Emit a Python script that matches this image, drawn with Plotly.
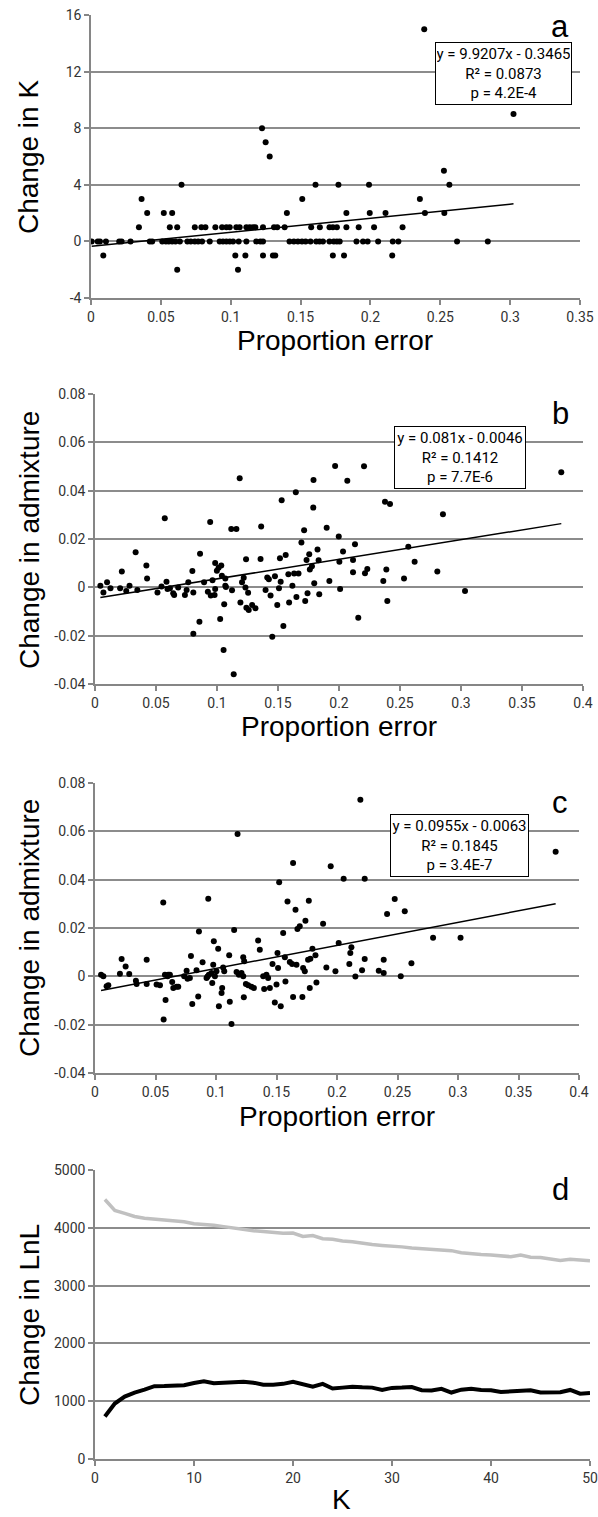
import plotly.graph_objects as go

W, H = 598, 1517

# ---------------- data ----------------
# Panel a: change in K vs proportion error
a_x = [0.0005, 0.0048, 0.0064, 0.0107, 0.0202, 0.0219, 0.0283, 0.0421, 0.0438, 0.0510, 0.0536, 0.0557, 0.0581,
       0.0605, 0.0636, 0.0690, 0.0714, 0.0743, 0.0767, 0.0795, 0.0850, 0.0921, 0.0945, 0.0969, 0.0993, 0.1017,
       0.1057, 0.1112, 0.1183, 0.1212, 0.1231, 0.1421, 0.1452, 0.1481, 0.1510, 0.1536, 0.1571, 0.1612, 0.1636,
       0.1660, 0.1707, 0.1738, 0.1760, 0.1780, 0.1900, 0.1947, 0.1980, 0.2055, 0.2160, 0.2200, 0.2620, 0.2840,
       0.0343, 0.0564, 0.0617, 0.0743, 0.0790, 0.0819, 0.0890, 0.0938, 0.0969, 0.0993, 0.1040, 0.1064, 0.1112,
       0.1136, 0.1160, 0.1176, 0.1231, 0.1310, 0.1333, 0.1386, 0.1576, 0.1638, 0.1707, 0.1731, 0.1760, 0.1828,
       0.1916, 0.2026, 0.2230,
       0.0402, 0.0521, 0.0581, 0.1402, 0.1828, 0.1995, 0.2108, 0.2390, 0.2529,
       0.0362, 0.1512, 0.2354,
       0.0648, 0.1607, 0.1771, 0.1990, 0.2565,
       0.2526, 0.1279, 0.1250, 0.1224, 0.3024, 0.2385,
       0.0088, 0.1033, 0.1105, 0.1231, 0.1302, 0.1319, 0.1731, 0.1811, 0.2156,
       0.0617, 0.1052]
a_y = [0] * 52 + [1] * 29 + [2] * 9 + [3] * 3 + [4] * 5 + [5, 6, 7, 8, 9, 15] + [-1] * 9 + [-2] * 2

# Panel b: change in admixture vs proportion error
b_x = [0.0044, 0.0069, 0.0099, 0.0127, 0.0206, 0.0220, 0.0256, 0.0283, 0.0333, 0.0347, 0.0421, 0.0427, 0.0512,
       0.0545, 0.0572, 0.0586, 0.0594, 0.0614, 0.0641, 0.0649, 0.0682, 0.0737, 0.0751, 0.0765, 0.0798, 0.0806,
       0.0806, 0.0856, 0.0861, 0.0894, 0.0925, 0.0944, 0.0949, 0.0963, 0.0980, 0.0985, 0.0985, 0.0999, 0.1013,
       0.1026, 0.1035, 0.1040, 0.1054, 0.1059, 0.1068, 0.1068, 0.1073, 0.1117, 0.1123, 0.1137, 0.1159, 0.1186,
       0.1192, 0.1205, 0.1219, 0.1233, 0.1238, 0.1241, 0.1255, 0.1260, 0.1288, 0.1315, 0.1357, 0.1362, 0.1398,
       0.1412, 0.1425, 0.1439, 0.1453, 0.1475, 0.1494, 0.1508, 0.1516, 0.1522, 0.1530, 0.1544, 0.1563, 0.1585,
       0.1591, 0.1618, 0.1632, 0.1646, 0.1651, 0.1668, 0.1692, 0.1714, 0.1723, 0.1734, 0.1742, 0.1756, 0.1761,
       0.1778, 0.1789, 0.1791, 0.1797, 0.1824, 0.1833, 0.1838, 0.1899, 0.1921, 0.1968, 0.1998, 0.2003, 0.2009,
       0.2033, 0.2068, 0.2115, 0.2115, 0.2131, 0.2158, 0.2205, 0.2213, 0.2232, 0.2363, 0.2377, 0.2388, 0.2396,
       0.2418, 0.2533, 0.2568, 0.2620, 0.2806, 0.2852, 0.3033, 0.3822]
b_y = [0.0007, -0.0021, 0.0021, -0.0004, -0.0004, 0.0065, -0.0015, 0.0007, 0.0145, -0.0011, 0.0090, 0.0037, -0.0021,
       0.0003, 0.0286, 0.0023, -0.0007, -0.0004, -0.0025, -0.0032, -0.0001, -0.0032, -0.0011, 0.0021, 0.0068, -0.0021,
       -0.0192, -0.0142, 0.0139, 0.0021, -0.0018, 0.0270, -0.0034, 0.0029, -0.0032, -0.0007, 0.0101, 0.0069, 0.0081,
       -0.0131, 0.0090, 0.0048, -0.0259, -0.0070, 0.0037, 0.0007, 0.0001, 0.0241, -0.0012, -0.0360, 0.0241, 0.0451,
       -0.0063, 0.0021, 0.0040, -0.0001, 0.0116, -0.0084, -0.0022, -0.0094, -0.0073, -0.0087, 0.0117, 0.0252, -0.0011,
       0.0041, 0.0033, -0.0034, -0.0204, 0.0046, -0.0073, -0.0004, 0.0120, 0.0023, 0.0360, -0.0160, 0.0134, 0.0054,
       -0.0063, 0.0007, 0.0057, 0.0393, -0.0040, 0.0057, 0.0186, 0.0236, -0.0057, 0.0113, -0.0025, 0.0137, 0.0074,
       0.0087, 0.0330, 0.0444, 0.0017, 0.0157, 0.0112, -0.0029, 0.0247, 0.0026, 0.0502, 0.0210, 0.0106, -0.0007,
       0.0148, 0.0441, 0.0113, 0.0062, 0.0178, -0.0126, 0.0501, 0.0058, 0.0076, 0.0026, 0.0354, 0.0074, -0.0057,
       0.0345, 0.0037, 0.0168, 0.0106, 0.0065, 0.0302, -0.0015, 0.0476]

# Panel c: change in admixture vs proportion error
c_x = [0.0050, 0.0069, 0.0096, 0.0110, 0.0206, 0.0220, 0.0253, 0.0283, 0.0338, 0.0344, 0.0427, 0.0427, 0.0509,
       0.0537, 0.0564, 0.0567, 0.0578, 0.0583, 0.0600, 0.0605, 0.0619, 0.0638, 0.0647, 0.0674, 0.0688, 0.0737,
       0.0757, 0.0765, 0.0784, 0.0793, 0.0804, 0.0839, 0.0853, 0.0859, 0.0889, 0.0922, 0.0930, 0.0936, 0.0941,
       0.0963, 0.0969, 0.0977, 0.0982, 0.0991, 0.1004, 0.1018, 0.1024, 0.1046, 0.1051, 0.1059, 0.1068, 0.1109,
       0.1114, 0.1128, 0.1150, 0.1170, 0.1178, 0.1189, 0.1211, 0.1225, 0.1225, 0.1230, 0.1233, 0.1247, 0.1266,
       0.1293, 0.1313, 0.1348, 0.1362, 0.1390, 0.1398, 0.1417, 0.1431, 0.1445, 0.1467, 0.1486, 0.1500, 0.1508,
       0.1513, 0.1522, 0.1535, 0.1555, 0.1569, 0.1574, 0.1591, 0.1610, 0.1629, 0.1637, 0.1637, 0.1657, 0.1665,
       0.1673, 0.1692, 0.1714, 0.1720, 0.1734, 0.1739, 0.1761, 0.1767, 0.1775, 0.1780, 0.1797, 0.1822, 0.1830,
       0.1885, 0.1912, 0.1948, 0.1987, 0.2014,
       0.2193, 0.2055, 0.2229, 0.2102, 0.2110, 0.2119, 0.2152, 0.2207, 0.2229, 0.2345, 0.2386, 0.2386, 0.2414,
       0.2477, 0.2527, 0.2560, 0.2615, 0.2794, 0.3021, 0.3807]
c_y = [0.0007, 0.0000, -0.0041, -0.0037, 0.0011, 0.0072, 0.0041, 0.0010, -0.0018, -0.0032, 0.0069, -0.0032, -0.0034,
       -0.0037, 0.0306, -0.0179, 0.0007, -0.0098, 0.0000, 0.0007, 0.0007, -0.0023, -0.0048, -0.0043, -0.0043, 0.0000,
       0.0023, -0.0010, -0.0007, 0.0084, -0.0114, 0.0025, -0.0083, 0.0185, 0.0058, -0.0007, -0.0001, 0.0321, 0.0007,
       0.0014, -0.0028, 0.0048, 0.0145, 0.0000, 0.0021, 0.0114, -0.0124, -0.0069, -0.0048, 0.0037, 0.0021, 0.0087,
       -0.0105, -0.0197, 0.0192, 0.0018, 0.0589, 0.0007, 0.0014, 0.0000, 0.0079, -0.0087, 0.0062, -0.0032, -0.0037,
       -0.0043, -0.0048, 0.0148, 0.0110, 0.0000, -0.0052, 0.0007, -0.0007, -0.0048, 0.0051, -0.0108, -0.0034, 0.0097,
       0.0034, 0.0389, -0.0124, 0.0179, 0.0079, -0.0021, 0.0310, 0.0059, 0.0051, 0.0469, -0.0086, 0.0276, 0.0048,
       0.0196, 0.0207, -0.0086, 0.0034, 0.0021, 0.0230, 0.0069, 0.0313, -0.0048, 0.0073, 0.0114, 0.0087, -0.0026,
       0.0218, 0.0037, 0.0455, 0.0021, 0.0138,
       0.0731, 0.0404, 0.0404, 0.0051, 0.0097, 0.0120, -0.0001, 0.0025, 0.0072, 0.0023, 0.0014, 0.0069, 0.0258,
       0.0320, 0.0000, 0.0269, 0.0054, 0.0160, 0.0160, 0.0516]

# Panel d: change in LnL vs K
d_k = list(range(1, 51))
d_gray = [4490, 4300, 4250, 4195, 4165, 4150, 4135, 4120, 4105, 4070, 4065, 4045, 4020, 3995, 3965, 3950, 3935,
          3915, 3905, 3910, 3850, 3865, 3810, 3800, 3770, 3760, 3730, 3710, 3695, 3690, 3670, 3650, 3640, 3625,
          3610, 3605, 3570, 3550, 3540, 3530, 3510, 3500, 3530, 3490, 3485, 3460, 3435, 3455, 3445, 3430]
d_black = [735, 960, 1080, 1150, 1200, 1260, 1262, 1268, 1275, 1315, 1345, 1310, 1320, 1335, 1338, 1320, 1285,
           1285, 1300, 1335, 1290, 1250, 1300, 1220, 1235, 1250, 1240, 1235, 1195, 1230, 1235, 1245, 1190, 1185,
           1215, 1150, 1200, 1215, 1195, 1190, 1160, 1165, 1170, 1190, 1150, 1150, 1155, 1195, 1130, 1140]

# regression fits (slope, intercept) and their text boxes
a_fit = (9.9207, -0.3465)
b_fit = (0.081, -0.0046)
c_fit = (0.0955, -0.0063)
a_box = ["y = 9.9207x - 0.3465", "R² = 0.0873", "p = 4.2E-4"]
b_box = ["y = 0.081x - 0.0046", "R² = 0.1412", "p = 7.7E-6"]
c_box = ["y = 0.0955x - 0.0063", "R² = 0.1845", "p = 3.4E-7"]

# tick labels
a_xticks = [0, 0.05, 0.1, 0.15, 0.2, 0.25, 0.3, 0.35]
a_xtext = ["0", "0.05", "0.1", "0.15", "0.2", "0.25", "0.3", "0.35"]
a_yticks = [-4, 0, 4, 8, 12, 16]
a_ytext = ["-4", "0", "4", "8", "12", "16"]
bc_xticks = [0, 0.05, 0.1, 0.15, 0.2, 0.25, 0.3, 0.35, 0.4]
bc_xtext = ["0", "0.05", "0.1", "0.15", "0.2", "0.25", "0.3", "0.35", "0.4"]
bc_yticks = [-0.04, -0.02, 0, 0.02, 0.04, 0.06, 0.08]
bc_ytext = ["-0.04", "-0.02", "0", "0.02", "0.04", "0.06", "0.08"]
d_xticks = [0, 10, 20, 30, 40, 50]
d_xtext = ["0", "10", "20", "30", "40", "50"]
d_yticks = [0, 1000, 2000, 3000, 4000, 5000]
d_ytext = ["0", "1000", "2000", "3000", "4000", "5000"]

# ---------------- layout helpers (page pixel -> paper fraction) ----------------
def px(x):
    return x / W

def py(y):
    return 1 - y / H

TICK_FONT = dict(family="Liberation Sans Narrow, Roboto, sans-serif", size=14, color="#333333")
TITLE_FONT = dict(family="Liberation Sans, Arial, sans-serif", size=28, color="#000000")
BOX_FONT = dict(family="Liberation Sans Narrow, Roboto, sans-serif", size=15, color="#000000")
AX_COL = "#868686"

panels = [
    # name, x0, x1, ytop, ybottom  (page pixels)
    ("1", 91, 580, 15, 298),
    ("2", 95, 583, 394, 684),
    ("3", 95, 579, 783, 1073),
    ("4", 95, 590, 1170, 1459),
]

fig = go.Figure()

def scatter_panel(idx, xs, ys, fit):
    fig.add_trace(go.Scatter(x=xs, y=ys, mode="markers", xaxis="x" + idx, yaxis="y" + idx,
                             marker=dict(size=6, color="black"), showlegend=False, hoverinfo="skip"))
    lo, hi = min(xs), max(xs)
    fig.add_trace(go.Scatter(x=[lo, hi], y=[fit[0] * lo + fit[1], fit[0] * hi + fit[1]], mode="lines",
                             xaxis="x" + idx, yaxis="y" + idx, line=dict(color="black", width=1.5),
                             showlegend=False, hoverinfo="skip"))

scatter_panel("1", a_x, a_y, a_fit)
scatter_panel("2", b_x, b_y, b_fit)
scatter_panel("3", c_x, c_y, c_fit)
fig.add_trace(go.Scatter(x=d_k, y=d_gray, mode="lines", xaxis="x4", yaxis="y4",
                         line=dict(color="#c0c0c0", width=3.5), showlegend=False, hoverinfo="skip"))
fig.add_trace(go.Scatter(x=d_k, y=d_black, mode="lines", xaxis="x4", yaxis="y4",
                         line=dict(color="black", width=4), showlegend=False, hoverinfo="skip"))

ranges = {
    "1": ([0, 0.35], a_xticks, a_xtext, [-4, 16], a_yticks, a_ytext),
    "2": ([0, 0.4], bc_xticks, bc_xtext, [-0.04, 0.08], bc_yticks, bc_ytext),
    "3": ([0, 0.4], bc_xticks, bc_xtext, [-0.04, 0.08], bc_yticks, bc_ytext),
    "4": ([0, 50], d_xticks, d_xtext, [0, 5000], d_yticks, d_ytext),
}

layout = dict(width=W, height=H, autosize=False, margin=dict(l=0, r=0, t=0, b=0, pad=0),
              paper_bgcolor="white", plot_bgcolor="white", showlegend=False)

for name, x0, x1, yt, yb in panels:
    xr, xt, xtt, yr, yt_, ytt = ranges[name]
    suffix = "" if name == "1" else name
    layout["xaxis" + suffix] = dict(domain=[px(x0), px(x1)], range=xr, tickvals=xt, ticktext=xtt,
                                    anchor="y" + name, showline=True, linecolor=AX_COL, linewidth=1.5,
                                    ticks="outside", ticklen=5, tickcolor=AX_COL, tickwidth=1.5,
                                    showgrid=False, zeroline=False, tickfont=TICK_FONT, fixedrange=True,
                                    automargin=False, ticklabeloverflow="allow")
    layout["yaxis" + suffix] = dict(domain=[py(yb), py(yt)], range=yr, tickvals=yt_, ticktext=ytt,
                                    anchor="x" + name, showline=True, linecolor=AX_COL, linewidth=1.5,
                                    ticks="outside", ticklen=5, tickcolor=AX_COL, tickwidth=1.5,
                                    showgrid=True, gridcolor="#8c8c8c", gridwidth=1.5,
                                    zeroline=False, tickfont=TICK_FONT, fixedrange=True,
                                    automargin=False, ticklabeloverflow="allow")

fig.update_layout(**layout)

ann = []
# y-axis titles
for text, yc in [("Change in K", 157), ("Change in admixture", 540), ("Change in admixture", 928),
                 ("Change in LnL", 1315)]:
    ann.append(dict(text=text, x=px(29), y=py(yc), xref="paper", yref="paper", textangle=-90,
                    showarrow=False, font=TITLE_FONT, xanchor="center", yanchor="middle"))
# x-axis titles
for text, xc, yc in [("Proportion error", 335, 340), ("Proportion error", 339, 727),
                     ("Proportion error", 337, 1116), ("K", 342, 1499)]:
    ann.append(dict(text=text, x=px(xc), y=py(yc), xref="paper", yref="paper", showarrow=False,
                    font=TITLE_FONT, xanchor="center", yanchor="middle"))
# panel letters
for text, yc in [("a", 27), ("b", 413), ("c", 802), ("d", 1189)]:
    ann.append(dict(text=text, x=px(560), y=py(yc), xref="paper", yref="paper", showarrow=False,
                    font=dict(family="Liberation Sans, Arial, sans-serif", size=31, color="black"),
                    xanchor="center", yanchor="middle"))
# regression text boxes
for lines, x0, x1, y0, y1 in [(a_box, 435, 572, 42, 105), (b_box, 394, 526, 426, 489),
                              (c_box, 390, 529, 814, 877)]:
    ann.append(dict(text="<br>".join(lines), x=px((x0 + x1) / 2), y=py((y0 + y1) / 2), xref="paper",
                    yref="paper", showarrow=False, font=BOX_FONT, align="center", xanchor="center",
                    yanchor="middle", bgcolor="white", bordercolor="black", borderwidth=1, borderpad=1,
                    width=x1 - x0 - 4, height=y1 - y0 - 4))

fig.update_layout(annotations=ann)
fig.write_html("out.html", config={"displayModeBar": False},
               post_script="document.body.style.margin='0';document.body.style.padding='0';")
